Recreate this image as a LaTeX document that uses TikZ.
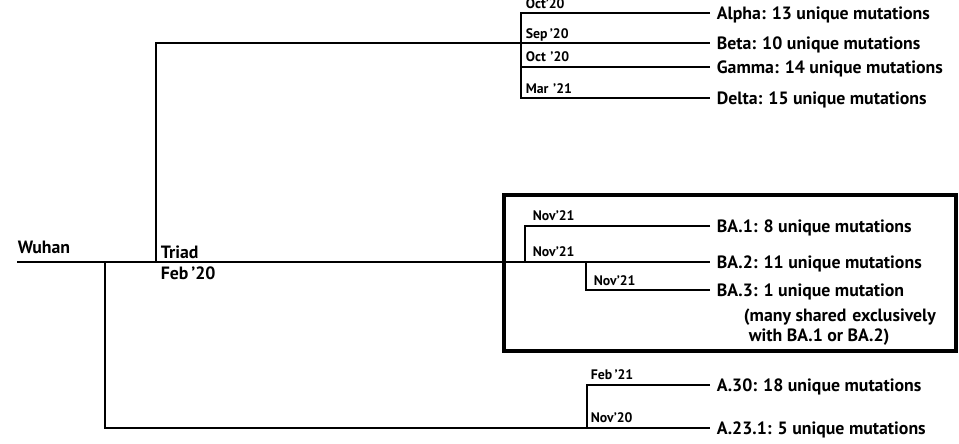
\documentclass[tikz,border=0pt]{standalone}
\usepackage{fontspec}
\setmainfont{PT Sans}
\usetikzlibrary{calc}
\tikzset{>=latex}
\tikzset{lineage/.style={anchor=west, inner xsep=6pt, inner ysep=0pt, text height=12.2pt, text depth=0pt, font=\bfseries\fontsize{17.8}{20}\selectfont},
  date/.style={anchor=base west, inner sep=0pt, font=\bfseries\fontsize{13.8}{15}\selectfont}}

\begin{document}
\begin{tikzpicture}[x=1pt, y=-1pt, line width=1.7pt]
\useasboundingbox (0,0) rectangle (959,444);
% junctions of the tree
\coordinate (root) at (17,262);
\coordinate (wsplit) at (105,262);
\coordinate (triad) at (156,262);
\coordinate (vsplit) at (521,43);
\coordinate (vbot) at (521,98);
\coordinate (basplit) at (525,262);
\coordinate (ba3split) at (586,262);
\coordinate (asplit) at (587,428);
% lineages
\node[lineage] (alpha) at (710,13) {Alpha: 13 unique mutations};
\node[lineage] (beta) at (710,43) {Beta: 10 unique mutations};
\node[lineage] (gamma) at (710,67) {Gamma: 14 unique mutations};
\node[lineage] (delta) at (710,98) {Delta: 15 unique mutations};
\node[lineage] (ba1) at (710,226) {BA.1: 8 unique mutations};
\node[lineage] (ba2) at (710,262) {BA.2: 11 unique mutations};
\node[lineage] (ba3) at (710,290) {BA.3: 1 unique mutation};
\node[date, font=\bfseries\fontsize{17.8}{20}\selectfont] (note1) at (743,321) {(many shared\,\,exclusively};
\node[date, font=\bfseries\fontsize{17.8}{20}\selectfont] (note2) at (748,341) {with BA.1 or BA.2)};
\node[lineage] (a30) at (710,385) {A.30: 18 unique mutations};
\node[lineage] (a231) at (710,428) {A.23.1: 5 unique mutations};
\node[date, font=\bfseries\fontsize{17.8}{20}\selectfont] (wuhan) at (17,253) {Wuhan};
\node[date, font=\bfseries\fontsize{17.8}{20}\selectfont] (triadlbl) at (160,258) {Triad};
\node[date, font=\bfseries\fontsize{17.8}{20}\selectfont] (feb20) at (160,279) {Feb\,'20};
% dates
\node[date] (d1) at (525,9) {Oct'20};
\node[date] (d2) at (525,39) {Sep\,'20};
\node[date] (d3) at (525,62) {Oct\,\,'20};
\node[date] (d4) at (525,93) {Mar\,\,'21};
\node[date] (d5) at (532,220) {Nov'21};
\node[date] (d6) at (532,256) {Nov'21};
\node[date] (d7) at (593,285) {Nov'21};
\node[date] (d8) at (590,379) {Feb\,'21};
\node[date] (d9) at (590,422) {Nov'20};
% branches
\draw (root) -- (ba2);
\draw (wsplit) |- (a231);
\draw (triad) |- (vsplit);
\draw (alpha) -| (vbot) -- (delta);
\draw (vsplit) -- (beta);
\draw (vsplit |- gamma) -- (gamma);
\draw (ba1) -| (basplit);
\draw (ba3) -| (ba3split);
\draw (a30) -| (asplit);
% Omicron box
\draw[line width=4pt] (504,195) rectangle (956,351);
\end{tikzpicture}
\end{document}
